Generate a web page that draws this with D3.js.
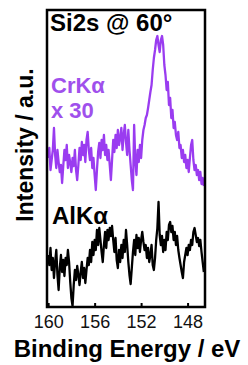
<!DOCTYPE html>
<html>
<head>
<meta charset="utf-8">
<script src="https://cdn.jsdelivr.net/npm/d3@7"></script>
<style>
  body { margin: 0; background: #fff; }
  svg { display: block; }
  text { font-family: "Liberation Sans", Arial, sans-serif; }
</style>
</head>
<body>
<div id="chart"></div>
<script>
// binding energy grid: 160.0 eV down in 0.1 eV steps
const startEnergy = 160.0;
const energyStep = 0.1;

// Si2s @ 60°, CrKα (x 30), offset a.u.
const crKa = [142,152,130,140,150,172,145,132,150,138,128,135,117,134,150,140,155,132,145,137,
  128,142,134,150,130,120,135,152,140,158,145,155,138,160,168,150,140,152,132,142,
  125,110,130,148,157,142,160,150,165,145,155,140,150,135,120,140,160,148,165,152,
  170,155,162,172,150,165,175,158,145,170,150,135,120,110,175,140,125,150,138,155,
  142,160,170,175,182,185,192,200,208,215,230,242,250,260,264,255,248,260,264,255,
  235,225,210,218,195,202,182,190,172,178,165,160,168,152,155,142,150,138,145,132,
  140,128,142,155,160,140,130,135,125,130,120,128,116,122,114];

// Si2s @ 60°, AlKα, a.u.
const alKa = [45,35,52,30,42,22,38,50,25,10,32,45,28,40,24,42,35,50,38,18,
  2,-6,15,30,20,34,25,15,28,38,22,32,17,30,42,35,50,38,58,45,
  60,50,70,55,72,60,48,38,55,68,52,70,60,72,64,74,60,48,62,40,
  32,50,38,55,42,60,48,70,55,38,25,16,32,48,60,45,65,52,62,48,
  60,68,58,50,55,42,52,38,45,55,35,30,42,60,72,98,65,55,64,48,
  60,50,68,60,75,78,68,74,60,68,55,64,50,42,35,28,22,38,45,52,
  45,55,50,60,55,68,72,65,58,62,54,60,48,38,28];

const xTicks = [160, 156, 152, 148];

const width = 248, height = 365;
const frame = { left: 47, right: 205, top: 10, bottom: 307 };

const svg = d3.select('#chart')
  .append('svg')
  .attr('width', width)
  .attr('height', height);

const x = d3.scaleLinear().domain([160.1, 146.5]).range([frame.left, frame.right]);
const y = d3.scaleLinear().domain([-7, 290]).range([frame.bottom, frame.top]);

svg.append('clipPath').attr('id', 'clip')
  .append('rect')
  .attr('x', frame.left).attr('y', frame.top)
  .attr('width', frame.right - frame.left)
  .attr('height', frame.bottom - frame.top);

const line = d3.line()
  .x((d, i) => x(startEnergy - i * energyStep))
  .y(d => y(d));

const plot = svg.append('g').attr('clip-path', 'url(#clip)');

plot.append('path')
  .datum(crKa)
  .attr('fill', 'none')
  .attr('stroke', '#9a3cf0')
  .attr('stroke-width', 2.3)
  .attr('stroke-linejoin', 'round')
  .attr('d', line);

plot.append('path')
  .datum(alKa)
  .attr('fill', 'none')
  .attr('stroke', '#000')
  .attr('stroke-width', 2.3)
  .attr('stroke-linejoin', 'round')
  .attr('d', line);

// bottom axis, ticks pointing inward
const xAxis = svg.append('g')
  .attr('transform', `translate(0,${frame.bottom})`)
  .call(d3.axisBottom(x).tickValues(xTicks).tickSize(-4).tickPadding(8).tickFormat(d3.format('d')));
xAxis.select('.domain').remove();
xAxis.selectAll('line').attr('stroke', '#000').attr('stroke-width', 2);
xAxis.selectAll('text')
  .attr('font-size', 18)
  .attr('fill', '#111')
  .style('font-family', '"Liberation Sans", Arial, sans-serif');

// frame
svg.append('rect')
  .attr('x', frame.left).attr('y', frame.top)
  .attr('width', frame.right - frame.left)
  .attr('height', frame.bottom - frame.top)
  .attr('fill', 'none')
  .attr('stroke', '#000')
  .attr('stroke-width', 2.5);

// labels
svg.append('text')
  .attr('x', 50).attr('y', 31)
  .attr('font-size', 24).attr('font-weight', 'bold')
  .text('Si2s @ 60°');

svg.append('text')
  .attr('x', 51).attr('y', 93)
  .attr('font-size', 22).attr('font-weight', 'bold')
  .attr('fill', '#9f50ec')
  .text('CrKα');

svg.append('text')
  .attr('x', 51).attr('y', 118)
  .attr('font-size', 22).attr('font-weight', 'bold')
  .attr('fill', '#9f50ec')
  .text('x 30');

svg.append('text')
  .attr('x', 52).attr('y', 224)
  .attr('font-size', 24).attr('font-weight', 'bold')
  .text('AlKα');

svg.append('text')
  .attr('transform', 'translate(33,145) rotate(-90)')
  .attr('text-anchor', 'middle')
  .attr('font-size', 23).attr('font-weight', 'bold')
  .text('Intensity / a.u.');

svg.append('text')
  .attr('x', 127).attr('y', 357)
  .attr('text-anchor', 'middle')
  .attr('font-size', 24).attr('font-weight', 'bold')
  .text('Binding Energy / eV');
</script>
</body>
</html>
